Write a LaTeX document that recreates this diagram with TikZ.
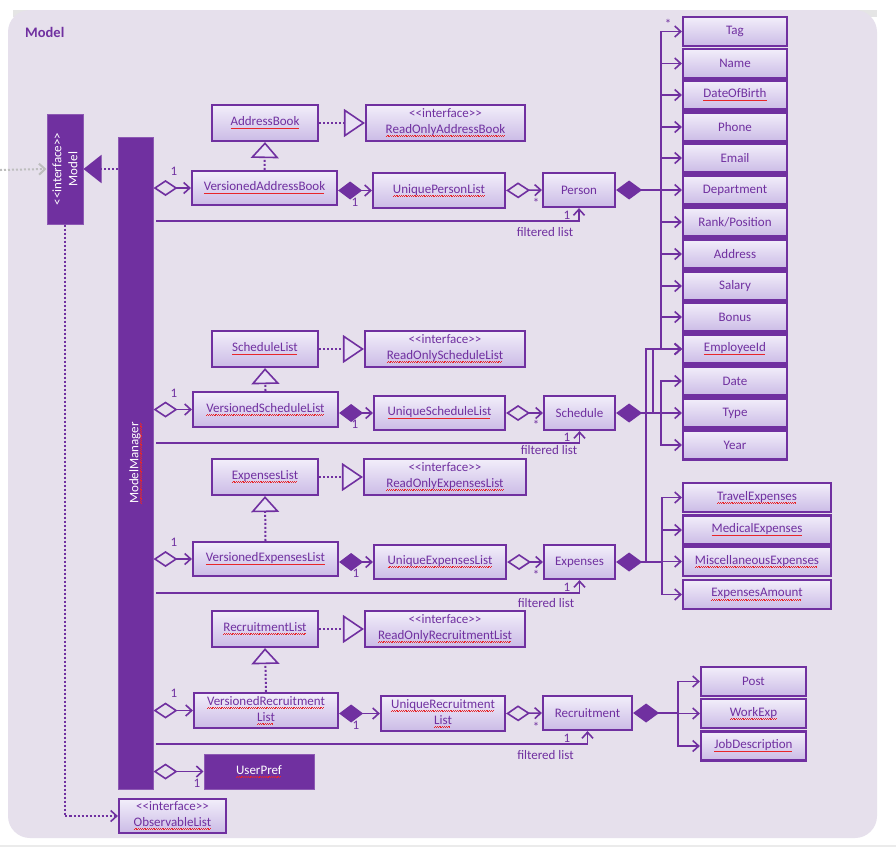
\documentclass[tikz,border=0pt]{standalone}
\usepackage{fontspec}
\setmainfont{Carlito}
\usetikzlibrary{arrows.meta}
\definecolor{mp}{HTML}{7030A0}
\definecolor{bgl}{HTML}{E6E0EC}
\definecolor{btop}{HTML}{F2EEFA}
\definecolor{bbot}{HTML}{CBBBE6}
\definecolor{trif}{HTML}{E9E2F4}
\definecolor{sqred}{HTML}{E8262A}
\definecolor{grl}{HTML}{BEBEBE}
\newcommand\sq[1]{\setbox0\hbox{#1}\rlap{\color{sqred}\hbox to \wd0{\leaders\hbox{\rule[-3.4pt]{0.9pt}{0.8pt}\rule[-2.5pt]{0.9pt}{0.8pt}}\hfill}}\box0}
\newcommand\intf{<\kern0pt<interface>\kern0pt>}
\tikzset{
  txt/.style={font=\fontsize{13}{16}\selectfont, text=mp},
  box/.style={txt, draw=mp, line width=2.2pt, top color=btop, bottom color=bbot, align=center, inner sep=0pt},
  dbox/.style={draw=mp!80!white, line width=1pt, fill=mp, inner sep=0pt},
  wtxt/.style={font=\fontsize{13}{16}\selectfont, text=white, align=center, inner sep=0pt},
  ln/.style={draw=mp, line width=1.6pt},
  barb/.style={ln, -{Straight Barb[length=6pt,width=11pt]}},
  agg/.style={ln, {Diamond[open,length=24pt,width=16pt]}-{Straight Barb[length=6pt,width=11pt]}},
  comp/.style={ln, {Diamond[length=24pt,width=18pt]}-{Straight Barb[length=6pt,width=11pt]}},
  compl/.style={ln, {Diamond[length=26pt,width=19pt]}-},
  dotl/.style={draw=mp, line width=2pt, dash pattern=on 2pt off 2pt},
  inhv/.style={dotl, -{Triangle[length=16pt,width=28pt,fill=trif,line width=1.6pt]}},
  inhh/.style={dotl, -{Triangle[length=21pt,width=28pt,fill=trif,line width=1.6pt]}},
  lab/.style={txt, inner sep=0pt},
  attr/.style={box, minimum width=104, minimum height=29},
  eattr/.style={box, minimum width=148, minimum height=29},
  rattr/.style={box, minimum width=105, minimum height=29},
}
\begin{document}
\begin{tikzpicture}[x=1pt,y=-1pt]
\useasboundingbox (0,0) rectangle (896,847);
\fill[white] (0,0) rectangle (896,847);
\fill[black!10] (13,10) rectangle (877,17);
\fill[bgl, rounded corners=22pt] (8,10) rectangle (877,838);
\fill[black!8] (0,845) rectangle (896,847);
\node[anchor=west, font=\fontsize{14.5}{16}\selectfont\bfseries, text=mp, inner sep=0pt] (title) at (25,32) {Model};

% left side
\node[dbox, minimum width=36, minimum height=110] (Model) at (65,169) {};
\node[wtxt, rotate=90] (Modeltxt) at (Model.center) {\intf\\Model};
\node[dbox, minimum width=35, minimum height=652] (MM) at (135.5,463) {};
\node[wtxt, rotate=90] (MMtxt) at (MM.center) {\sq{ModelManager}};
\node[dbox, minimum width=110, minimum height=35] (UP) at (259,771.5) {};
\node[wtxt] (UPtxt) at (UP.center) {\sq{UserPref}};
\node[box, minimum width=107, minimum height=34] (OL) at (172.5,816) {\intf\\\sq{ObservableList}};

% person row
\node[box, minimum width=106, minimum height=36] (AB) at (265,123) {\sq{AddressBook}};
\node[box, minimum width=159, minimum height=36] (ROAB) at (445.5,123) {\intf\\\sq{ReadOnlyAddressBook}};
\node[box, minimum width=145, minimum height=34] (VAB) at (264.5,188) {\sq{VersionedAddressBook}};
\node[box, minimum width=132, minimum height=35] (UPL) at (439,190.5) {\sq{UniquePersonList}};
\node[box, minimum width=72, minimum height=34] (Person) at (579,190) {Person};

% schedule row
\node[box, minimum width=106, minimum height=36] (SL) at (265,349) {\sq{ScheduleList}};
\node[box, minimum width=160, minimum height=36] (ROSL) at (445,349) {\intf\\\sq{ReadOnlyScheduleList}};
\node[box, minimum width=145, minimum height=35] (VSL) at (265.5,409.5) {\sq{VersionedScheduleList}};
\node[box, minimum width=131, minimum height=34] (USL) at (439.5,413) {\sq{UniqueScheduleList}};
\node[box, minimum width=71, minimum height=34] (Schedule) at (579.5,413) {Schedule};

% expenses row
\node[box, minimum width=106, minimum height=36] (EL) at (265,477) {\sq{ExpensesList}};
\node[box, minimum width=162, minimum height=36] (ROEL) at (445,477) {\intf\\\sq{ReadOnlyExpensesList}};
\node[box, minimum width=145, minimum height=34] (VEL) at (265.5,559) {\sq{VersionedExpensesList}};
\node[box, minimum width=132, minimum height=34] (UEL) at (440,562) {\sq{UniqueExpensesList}};
\node[box, minimum width=71, minimum height=34] (Expenses) at (579.5,562) {Expenses};

% recruitment row
\node[box, minimum width=106, minimum height=36] (RL) at (265,629) {\sq{RecruitmentList}};
\node[box, minimum width=160, minimum height=36] (RORL) at (445,629) {\intf\\\sq{ReadOnlyRecruitmentList}};
\node[box, minimum width=144, minimum height=35] (VRL) at (266,710.5) {\sq{VersionedRecruitment}\\\sq{List}};
\node[box, minimum width=124, minimum height=35] (URL) at (443,713.5) {\sq{UniqueRecruitment}\\\sq{List}};
\node[box, minimum width=89, minimum height=34] (Recruitment) at (587.5,713) {Recruitment};

% attribute column
\node[attr] (Tag) at (735,31.5) {Tag};
\node[attr] (Name) at (735,63.5) {Name};
\node[attr] (DOB) at (735,95) {\sq{DateOfBirth}};
\node[attr] (Phone) at (735,127) {Phone};
\node[attr] (Email) at (735,158) {Email};
\node[attr] (Dept) at (735,190) {Department};
\node[attr] (Rank) at (735,222) {Rank/Position};
\node[attr] (Address) at (735,254) {Address};
\node[attr] (Salary) at (735,286) {Salary};
\node[attr] (Bonus) at (735,317) {Bonus};
\node[attr] (EmpId) at (735,349) {\sq{EmployeeId}};
\node[attr] (Date) at (735,381) {Date};
\node[attr] (Type) at (735,413) {Type};
\node[attr] (Year) at (735,445) {Year};

\node[eattr] (TE) at (757,497.5) {\sq{TravelExpenses}};
\node[eattr] (ME) at (757,530) {\sq{MedicalExpenses}};
\node[eattr] (MiscE) at (757,561.5) {\sq{MiscellaneousExpenses}};
\node[eattr] (EA) at (757,594.5) {\sq{ExpensesAmount}};

\node[rattr] (Post) at (753.5,681.5) {Post};
\node[rattr] (WE) at (753.5,713.5) {\sq{WorkExp}};
\node[rattr] (JD) at (753.5,746) {\sq{JobDescription}};

% model connectors
\coordinate (gin) at (0,170);
\draw[grl, line width=2pt, dash pattern=on 2pt off 2pt, -{Straight Barb[length=6pt,width=11pt]}] (gin) -- (Model.west);
\draw[dotl, -{Triangle[length=18pt,width=28pt,fill=mp]}] (MM.west |- Model.east) -- (Model.east);
\draw[dotl, -{Straight Barb[length=6pt,width=11pt,line width=1.6pt]}] (Model.south) |- (OL.west);
\draw[agg] (MM.east |- UP.west) -- (UP.west);
\node[lab] (lup) at (197,783) {1};

% person row connectors
\draw[agg] (MM.east |- VAB.west) -- (VAB.west);
\node[lab] (l1a) at (174,171) {1};
\draw[comp] (VAB.east |- UPL.west) -- (UPL.west);
\node[lab] (l1b) at (355,202) {1};
\draw[agg] (UPL.east) -- (Person.west);
\node[lab] (s1) at (536,203) {*};
\draw[inhh] (AB.east) -- (ROAB.west);
\draw[inhv] (VAB.north) -- (AB.south);
\coordinate (f1) at (156,221);
\draw[barb] (f1) -| (Person.south);
\node[lab] (l1c) at (567,215) {1};
\node[lab] (fl1) at (545,232) {filtered list};

% schedule row connectors
\draw[agg] (MM.east |- VSL.west) -- (VSL.west);
\node[lab] (l2a) at (174,393) {1};
\draw[comp] (VSL.east |- USL.west) -- (USL.west);
\node[lab] (l2b) at (355,424) {1};
\draw[agg] (USL.east) -- (Schedule.west);
\node[lab] (s2) at (536,425) {*};
\draw[inhh] (SL.east) -- (ROSL.west);
\draw[inhv] (VSL.north) -- (SL.south);
\coordinate (f2) at (156,443);
\draw[barb] (f2) -| (Schedule.south);
\node[lab] (l2c) at (567,437) {1};
\node[lab] (fl2) at (549,450) {filtered list};

% expenses row connectors
\draw[agg] (MM.east |- VEL.west) -- (VEL.west);
\node[lab] (l3a) at (174,542) {1};
\draw[comp] (VEL.east |- UEL.west) -- (UEL.west);
\node[lab] (l3b) at (356,573) {1};
\draw[agg] (UEL.east) -- (Expenses.west);
\node[lab] (s3) at (536,575) {*};
\draw[inhh] (EL.east) -- (ROEL.west);
\draw[inhv] (VEL.north) -- (EL.south);
\coordinate (f3) at (156,593);
\draw[barb] (f3) -| (Expenses.south);
\node[lab] (l3c) at (567,587) {1};
\node[lab] (fl3) at (546,603) {filtered list};

% recruitment row connectors
\draw[agg] (MM.east |- VRL.west) -- (VRL.west);
\node[lab] (l4a) at (174,693) {1};
\draw[comp] (VRL.east |- URL.west) -- (URL.west);
\node[lab] (l4b) at (356,725) {1};
\draw[agg] (URL.east) -- (Recruitment.west);
\node[lab] (s4) at (536,727) {*};
\draw[inhh] (RL.east) -- (RORL.west);
\draw[inhv] (VRL.north) -- (RL.south);
\coordinate (f4) at (156,744);
\draw[barb] (f4) -| (Recruitment.south);
\node[lab] (l4c) at (567,738) {1};
\node[lab] (fl4) at (545.5,755) {filtered list};

% person attributes
\coordinate (pb) at (661,190);
\draw[compl] (Person.east) -- (pb);
\foreach \t in {Tag,Name,DOB,Phone,Email,Dept,Rank,Address,Salary,Bonus,EmpId}
  \draw[barb] (pb) |- (\t.west);
\node[lab] (stag) at (668,24) {*};

% schedule attributes
\coordinate (sb) at (661,413);
\coordinate (se) at (653,413);
\draw[compl] (Schedule.east) -- (sb);
\foreach \t in {Date,Type,Year}
  \draw[barb] (sb) |- (\t.west);
\draw[barb] (se) |- (EmpId.west);

% expenses attributes
\coordinate (eb) at (662,562);
\coordinate (ee) at (646,562);
\draw[compl] (Expenses.east) -- (eb);
\foreach \t in {TE,ME,MiscE,EA}
  \draw[barb] (eb) |- (\t.west);
\draw[barb] (ee) |- (EmpId.west);

% recruitment attributes
\coordinate (rb) at (678,713);
\draw[compl] (Recruitment.east) -- (rb);
\foreach \t in {Post,WE,JD}
  \draw[barb] (rb) |- (\t.west);
\end{tikzpicture}
\end{document}
